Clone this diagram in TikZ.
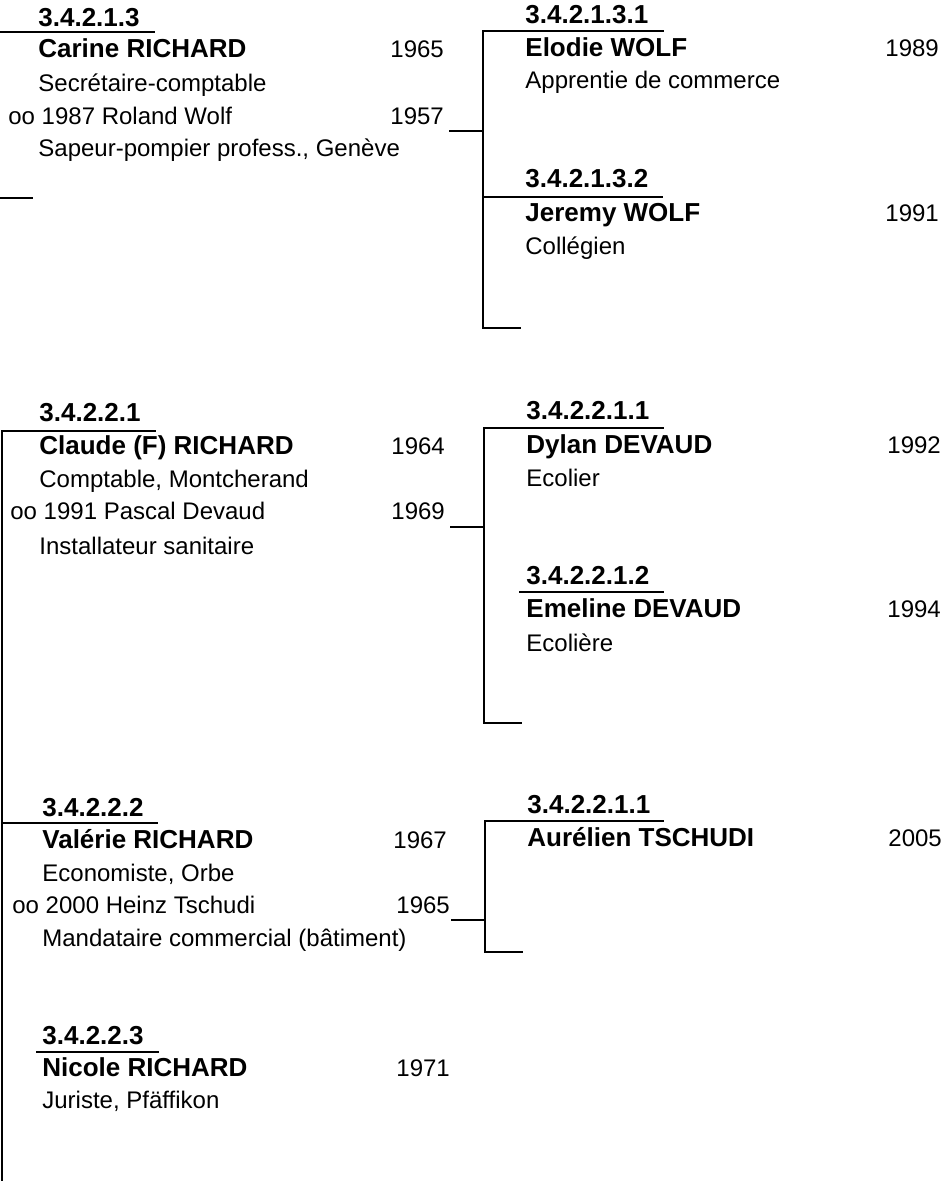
\documentclass[tikz,border=0pt]{standalone}
\usepackage{fontspec}
\setmainfont{Liberation Sans}
\usetikzlibrary{positioning,calc}
\tikzset{num/.style={font=\fontsize{13}{15}\selectfont\bfseries,anchor=base west,inner sep=0pt},
 nm/.style={font=\fontsize{13}{15}\selectfont\bfseries,anchor=base west,inner sep=0pt},
 tx/.style={font=\fontsize{12}{14}\selectfont,anchor=base west,inner sep=0pt},
 wire/.style={line width=1pt,line cap=rect}}
\begin{document}
\begin{tikzpicture}[x=.5pt,y=-.5pt]
\useasboundingbox (0,0) rectangle (943,1181);
% left column
\node[num] (p1) at (38,27){3.4.2.1.3};
\node[nm] (p1n) at (38,58){Carine RICHARD};\node[tx] (p1y) at (390,58){1965};
\node[tx] (p1j) at (38,92){Secrétaire-comptable};
\node[tx] (p1m) at (8,125){oo 1987 Roland Wolf};\node[tx] (p1s) at (390,125){1957};
\node[tx] (p1k) at (38,157){Sapeur-pompier profess., Genève};
\node[num] (p2) at (39,422){3.4.2.2.1};
\node[nm] (p2n) at (39,454){Claude (F) RICHARD};\node[tx] (p2y) at (391,454){1964};
\node[tx] (p2j) at (39,487){Comptable, Montcherand};
\node[tx] (p2m) at (10,519){oo 1991 Pascal Devaud};\node[tx] (p2s) at (391,519){1969};
\node[tx] (p2k) at (39,554){Installateur sanitaire};
\node[num] (p3) at (42,816){3.4.2.2.2};
\node[nm] (p3n) at (42,848){Valérie RICHARD};\node[tx] (p3y) at (393,848){1967};
\node[tx] (p3j) at (42,881){Economiste, Orbe};
\node[tx] (p3m) at (12,913){oo 2000 Heinz Tschudi};\node[tx] (p3s) at (396,913){1965};
\node[tx] (p3k) at (42,946){Mandataire commercial (bâtiment)};
\node[num] (p4) at (42,1044){3.4.2.2.3};
\node[nm] (p4n) at (42,1076){Nicole RICHARD};\node[tx] (p4y) at (396,1076){1971};
\node[tx] (p4j) at (42,1108){Juriste, Pfäffikon};
% right column
\node[num] (e1) at (525,24){3.4.2.1.3.1};
\node[nm] (e1n) at (525,57){Elodie WOLF};\node[tx] (e1y) at (885,57){1989};
\node[tx] (e1j) at (525,89){Apprentie de commerce};
\node[num] (e2) at (525,188){3.4.2.1.3.2};
\node[nm] (e2n) at (525,222){Jeremy WOLF};\node[tx] (e2y) at (885,222){1991};
\node[tx] (e2j) at (525,255){Collégien};
\node[num] (e3) at (526,419){3.4.2.2.1.1};
\node[nm] (e3n) at (526,453){Dylan DEVAUD};\node[tx] (e3y) at (887,453){1992};
\node[tx] (e3j) at (526,486){Ecolier};
\node[num] (e4) at (526,584){3.4.2.2.1.2};
\node[nm] (e4n) at (526,617){Emeline DEVAUD};\node[tx] (e4y) at (887,617){1994};
\node[tx] (e4j) at (526,651){Ecolière};
\node[num] (e5) at (527,813){3.4.2.2.1.1};
\node[nm] (e5n) at (527,846){Aurélien TSCHUDI};\node[tx] (e5y) at (888,846){2005};
% lines, left
\draw[wire] (0,32)--(154,32);
\draw[wire] (0,198)--(32,198);
\draw[wire] (155,431)--(2,431)--(2,1181);
\draw[wire] (2,823)--(157,823);
\draw[wire] (37,1052)--(158,1052);
% brackets
\foreach \i/\x/\t/\m/\b in {1/483/31/131/328,2/484/428/527/723,3/485/821/920/952}{
 \coordinate (k\i) at (\x-33,\m);\coordinate (b\i) at (\x,\m);
 \draw[wire](k\i)--(b\i);
 \draw[wire](663,\t)--(\x,\t)--(\x,\b)--(\x+37,\b);
}
\draw[wire] (483,197)--(662,197);
\draw[wire] (520,592)--(663,592);
\end{tikzpicture}
\end{document}
